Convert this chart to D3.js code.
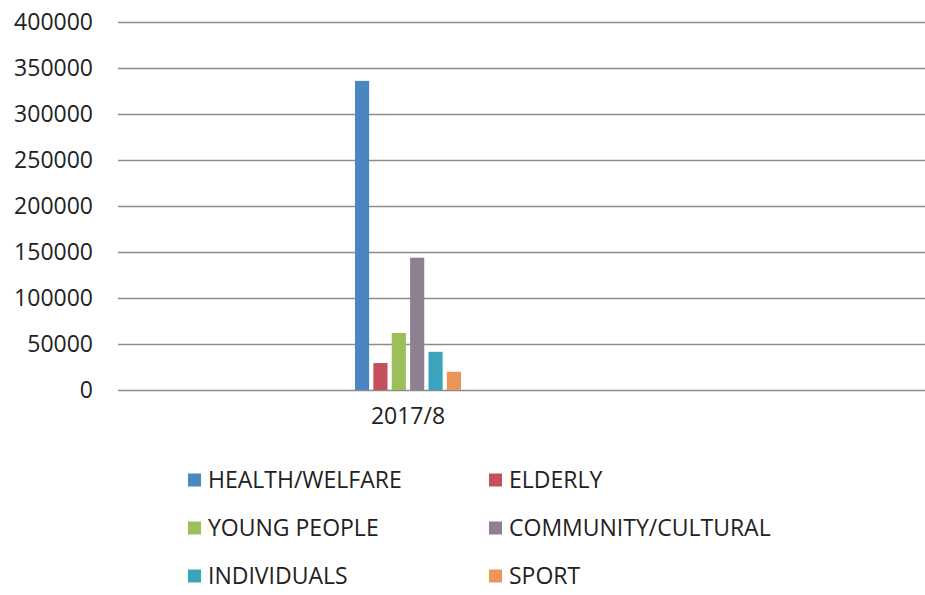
<!DOCTYPE html>
<html>
<head>
<meta charset="utf-8">
<script src="https://cdn.jsdelivr.net/npm/d3@7"></script>
<style>
  html, body { margin: 0; padding: 0; background: #fff; }
  svg { display: block; }
  text { font-family: "Open Sans", "DejaVu Sans", sans-serif; fill: #222; font-weight: 400; }
</style>
</head>
<body>
<svg id="chart" width="925" height="595"></svg>
<script>
const categories = ["2017/8"];
const seriesNames = ["HEALTH/WELFARE", "ELDERLY", "YOUNG PEOPLE", "COMMUNITY/CULTURAL", "INDIVIDUALS", "SPORT"];
const seriesValues = [336000, 29300, 62000, 143800, 41500, 19800];
const seriesColors = ["#4a86c0", "#c4505c", "#9cbf5c", "#8e8091", "#3ba3bb", "#ec9459"];
const yTicks = [0, 50000, 100000, 150000, 200000, 250000, 300000, 350000, 400000];

const svg = d3.select("#chart");
const plot = { left: 118, right: 925, top: 22, bottom: 390 };

const y = d3.scaleLinear().domain([0, 400000]).range([plot.bottom, plot.top]);
const x0 = d3.scaleBand().domain(categories).range([plot.left, 698]);
const x1 = d3.scaleBand().domain(seriesNames)
  .range([x0.bandwidth() / 2 - 53, x0.bandwidth() / 2 + 53])
  .paddingInner(0.23).paddingOuter(0);

// gridlines + y labels
const yAxis = d3.axisLeft(y).tickValues(yTicks).tickSize(-(plot.right - plot.left)).tickPadding(25)
  .tickFormat(d3.format("d"));
const gy = svg.append("g").attr("transform", `translate(${plot.left},0)`).call(yAxis);
gy.select(".domain").remove();
gy.selectAll(".tick line").attr("stroke", "#8c8c8c").attr("stroke-width", 1.6);
gy.selectAll(".tick text").style("font-size", "23px").attr("fill", "#222");

// bars
const data = seriesNames.map((s, i) => ({ cat: categories[0], name: s, value: seriesValues[i], color: seriesColors[i] }));
svg.append("g").selectAll("rect").data(data).join("rect")
  .attr("x", d => x0(d.cat) + x1(d.name))
  .attr("width", x1.bandwidth())
  .attr("y", d => y(d.value))
  .attr("height", d => y(0) - y(d.value))
  .attr("fill", d => d.color);

// x axis labels
const xAxis = d3.axisBottom(x0).tickSize(0).tickPadding(18);
const gx = svg.append("g").attr("transform", `translate(0,${plot.bottom})`).call(xAxis);
gx.select(".domain").remove();
gx.selectAll(".tick text").style("font-size", "23px").attr("fill", "#222");

// legend
const legend = svg.append("g");
const colX = [188, 489];
const rowY = [480, 528, 576];
const items = legend.selectAll("g").data(data).join("g")
  .attr("transform", (d, i) => `translate(${colX[i % 2]},${rowY[Math.floor(i / 2)]})`);
items.append("rect").attr("x", 0).attr("y", -6.5).attr("width", 13).attr("height", 13).attr("fill", d => d.color);
items.append("text").attr("x", 20).attr("y", 0).attr("dy", "0.35em")
  .style("font-size", "23px").text(d => d.name);
</script>
</body>
</html>
